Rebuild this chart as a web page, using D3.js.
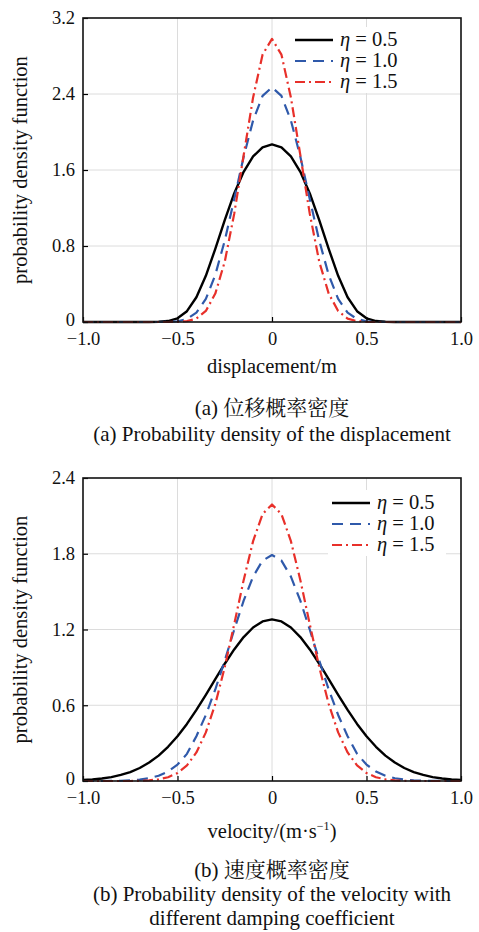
<!DOCTYPE html>
<html lang="zh">
<head>
<meta charset="UTF-8">
<title>概率密度</title>
<script src="https://cdn.jsdelivr.net/npm/d3@7/dist/d3.min.js"></script>
<style>
    body { margin: 0; background: #fff; }
    svg { display: block; font-family: "Liberation Serif", "Times New Roman", "Noto Serif CJK SC", "Noto Sans CJK SC", serif; }
    .grid line { stroke: #dcdcdc; stroke-width: 1; }
    .axis path { display: none; }
    .axis line { stroke: #000; stroke-width: 1.2; }
    .axis text { font-size: 18.5px; fill: #111; font-family: "Liberation Serif", serif; }
    .title { font-size: 20.5px; fill: #111; }
    .caption { font-size: 21px; fill: #111; }
    .legend text { font-size: 20.5px; fill: #111; }
</style>
</head>
<body>
<script>
// 横坐标（两个子图共用）
let xs = [-1.0, -0.95, -0.9, -0.85, -0.8, -0.75, -0.7, -0.65, -0.6, -0.55, -0.5, -0.45, -0.4, -0.35, -0.3, -0.25, -0.2, -0.15, -0.1, -0.05,
    0, 0.05, 0.1, 0.15, 0.2, 0.25, 0.3, 0.35, 0.4, 0.45, 0.5, 0.55, 0.6, 0.65, 0.7, 0.75, 0.8, 0.85, 0.9, 0.95, 1.0];

// (a) 位移概率密度
let dispEta05 = [0, 0, 0, 0, 0, 0, 0, 0, 0.002, 0.010, 0.039, 0.114, 0.260, 0.486, 0.770, 1.073, 1.353, 1.581, 1.743, 1.839,
    1.87, 1.839, 1.743, 1.581, 1.353, 1.073, 0.770, 0.486, 0.260, 0.114, 0.039, 0.010, 0.002, 0, 0, 0, 0, 0, 0, 0, 0];
let dispEta10 = [0, 0, 0, 0, 0, 0, 0, 0, 0, 0.001, 0.008, 0.031, 0.098, 0.243, 0.496, 0.857, 1.293, 1.739, 2.122, 2.380,
    2.47, 2.380, 2.122, 1.739, 1.293, 0.857, 0.496, 0.243, 0.098, 0.031, 0.008, 0.001, 0, 0, 0, 0, 0, 0, 0, 0, 0];
let dispEta15 = [0, 0, 0, 0, 0, 0, 0, 0, 0, 0, 0.002, 0.009, 0.036, 0.116, 0.299, 0.635, 1.138, 1.755, 2.364, 2.814,
    2.98, 2.814, 2.364, 1.755, 1.138, 0.635, 0.299, 0.116, 0.036, 0.009, 0.002, 0, 0, 0, 0, 0, 0, 0, 0, 0, 0];

// (b) 速度概率密度
let velEta05 = [0.008, 0.012, 0.020, 0.031, 0.048, 0.071, 0.103, 0.146, 0.201, 0.271, 0.354, 0.452, 0.563, 0.682, 0.806, 0.929, 1.042, 1.140, 1.216, 1.264,
    1.28, 1.264, 1.216, 1.140, 1.042, 0.929, 0.806, 0.682, 0.563, 0.452, 0.354, 0.271, 0.201, 0.146, 0.103, 0.071, 0.048, 0.031, 0.020, 0.012, 0.008];
let velEta10 = [0, 0, 0, 0.001, 0.002, 0.005, 0.011, 0.022, 0.042, 0.075, 0.130, 0.215, 0.355, 0.523, 0.725, 0.955, 1.198, 1.428, 1.619, 1.746,
    1.79, 1.746, 1.619, 1.428, 1.198, 0.955, 0.725, 0.523, 0.355, 0.215, 0.130, 0.075, 0.042, 0.022, 0.011, 0.005, 0.002, 0.001, 0, 0, 0];
let velEta15 = [0, 0, 0, 0, 0, 0, 0.002, 0.005, 0.013, 0.030, 0.063, 0.123, 0.226, 0.385, 0.610, 0.902, 1.241, 1.591, 1.900, 2.114,
    2.19, 2.114, 1.900, 1.591, 1.241, 0.902, 0.610, 0.385, 0.226, 0.123, 0.063, 0.030, 0.013, 0.005, 0.002, 0, 0, 0, 0, 0, 0];

// 刻度
let xTicks = [-1, -0.5, 0, 0.5, 1];
let dispYTicks = [0, 0.8, 1.6, 2.4, 3.2];
let velYTicks = [0, 0.6, 1.2, 1.8, 2.4];
let etaLabels = ['0.5', '1.0', '1.5'];

// 线型
let styles = [
    {color: '#000000', dash: null, width: 2.4},
    {color: '#2f59aa', dash: '11,7', width: 2.2},
    {color: '#e8302a', dash: '10,4,2,4', width: 2.2}
];

let width = 479;
let height = 932;

let svg = d3.select('body')
    .append('svg')
    .attr('width', width)
    .attr('height', height);

function drawPanel(p) {
    let x = d3.scaleLinear().domain([-1, 1]).range([83, 461]);
    let y = d3.scaleLinear().domain([0, p.yMax]).range([p.bottom, p.top]);
    let g = svg.append('g');

    // 网格
    let grid = g.append('g').attr('class', 'grid');
    grid.selectAll('.vx')
        .data(xTicks.filter(function (d) { return Math.abs(d) < 1; }))
        .enter().append('line')
        .attr('x1', function (d) { return x(d); })
        .attr('x2', function (d) { return x(d); })
        .attr('y1', p.top)
        .attr('y2', p.bottom);
    grid.selectAll('.hy')
        .data(p.yTicks.filter(function (d) { return d > 0 && d < p.yMax; }))
        .enter().append('line')
        .attr('x1', 83)
        .attr('x2', 461)
        .attr('y1', function (d) { return y(d); })
        .attr('y2', function (d) { return y(d); });

    // 曲线
    let line = d3.line()
        .x(function (d, i) { return x(xs[i]); })
        .y(function (d) { return y(d); });
    p.series.forEach(function (s, i) {
        g.append('path')
            .datum(s)
            .attr('d', line)
            .attr('fill', 'none')
            .attr('stroke', styles[i].color)
            .attr('stroke-width', styles[i].width)
            .attr('stroke-dasharray', styles[i].dash)
            .attr('stroke-linejoin', 'round');
    });

    // 坐标轴
    let fmt = function (d) { return d === 0 ? '0' : d3.format('.1f')(d); };
    g.append('g')
        .attr('class', 'axis')
        .attr('transform', 'translate(0,' + p.bottom + ')')
        .call(d3.axisBottom(x).tickValues(xTicks).tickFormat(fmt).tickSizeInner(-5).tickSizeOuter(0).tickPadding(10));
    let ya = g.append('g')
        .attr('class', 'axis')
        .attr('transform', 'translate(83,0)')
        .call(d3.axisLeft(y).tickValues(p.yTicks).tickFormat(fmt).tickSizeInner(-5).tickSizeOuter(0).tickPadding(8));
    // 0 标签略微上移，避免与横轴标签相碰
    ya.selectAll('.tick text')
        .filter(function (d) { return d === 0; })
        .attr('dy', '0.2em');

    // 边框
    g.append('rect')
        .attr('x', 83)
        .attr('y', p.top)
        .attr('width', 378)
        .attr('height', p.bottom - p.top)
        .attr('fill', 'none')
        .attr('stroke', '#111')
        .attr('stroke-width', 1.6);

    // 图例
    let lg = g.append('g').attr('class', 'legend');
    lg.append('rect')
        .attr('x', p.legendX - 4)
        .attr('y', p.legendY - 13)
        .attr('width', 118)
        .attr('height', 66)
        .attr('fill', '#fff');
    etaLabels.forEach(function (lab, i) {
        let ly = p.legendY + i * 21;
        lg.append('line')
            .attr('x1', p.legendX)
            .attr('x2', p.legendX + 38)
            .attr('y1', ly)
            .attr('y2', ly)
            .attr('stroke', styles[i].color)
            .attr('stroke-width', styles[i].width)
            .attr('stroke-dasharray', styles[i].dash);
        let t = lg.append('text')
            .attr('x', p.legendX + 45)
            .attr('y', ly + 6);
        t.append('tspan').attr('font-style', 'italic').text('η');
        t.append('tspan').text(' = ' + lab);
    });

    // 轴标题
    if (p.xTitle) {
        g.append('text')
            .attr('class', 'title')
            .attr('x', 272)
            .attr('y', p.bottom + 51)
            .attr('text-anchor', 'middle')
            .text(p.xTitle);
    }
    g.append('text')
        .attr('class', 'title')
        .attr('transform', 'translate(27,' + ((p.top + p.bottom) / 2) + ') rotate(-90)')
        .attr('text-anchor', 'middle')
        .text('probability density function');

    // 图注
    p.captions.forEach(function (c, i) {
        g.append('text')
            .attr('class', 'caption')
            .attr('x', 272)
            .attr('y', p.captionY + i * p.captionStep)
            .attr('text-anchor', 'middle')
            .text(c);
    });
    return g;
}

drawPanel({
    top: 18, bottom: 322, yMax: 3.2, yTicks: dispYTicks,
    series: [dispEta05, dispEta10, dispEta15],
    xTitle: 'displacement/m',
    legendX: 295, legendY: 40,
    captionY: 415, captionStep: 26,
    captions: ['(a) 位移概率密度', '(a) Probability density of the displacement']
});

let g2 = drawPanel({
    top: 478, bottom: 781, yMax: 2.4, yTicks: velYTicks,
    series: [velEta05, velEta10, velEta15],
    xTitle: '',
    legendX: 332, legendY: 503,
    captionY: 877, captionStep: 24,
    captions: ['(b) 速度概率密度', '(b) Probability density of the velocity with', 'different damping coefficient']
});

// 速度单位（上标）
let vt = g2.append('text')
    .attr('class', 'title')
    .attr('x', 272)
    .attr('y', 838)
    .attr('text-anchor', 'middle');
vt.append('tspan').text('velocity/(m·s');
vt.append('tspan').attr('dy', -8).attr('font-size', '12px').text('−1');
vt.append('tspan').attr('dy', 8).text(')');
</script>
</body>
</html>
